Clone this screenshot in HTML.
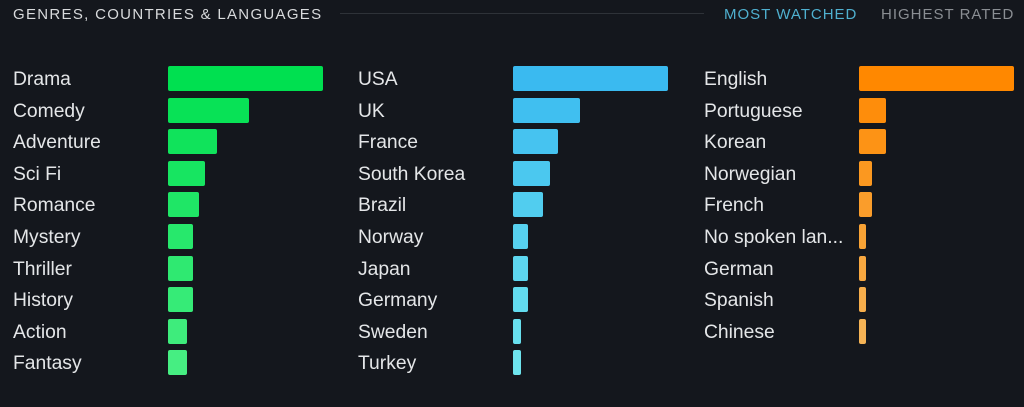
<!DOCTYPE html>
<html><head><meta charset="utf-8"><style>
body{margin:0;background:#14171d;width:1024px;height:407px;overflow:hidden;position:relative;font-family:"Liberation Sans",sans-serif}
.t{position:absolute;color:#e4e6e8;font-size:19.3px;line-height:25px;white-space:nowrap}
.b{position:absolute;height:25px;border-radius:2px}
.h{position:absolute;top:6px;font-size:15px;letter-spacing:1px;line-height:18px;white-space:nowrap}
</style></head><body>
<div class="h" style="left:13px;color:#d8dadc;letter-spacing:1.3px">GENRES, COUNTRIES &amp; LANGUAGES</div>
<div style="position:absolute;left:340px;top:13px;width:364px;height:1px;background:#2e3238"></div>
<div class="h" style="left:724px;color:#4fb0cf">MOST WATCHED</div>
<div class="h" style="left:881px;color:#8a8e93">HIGHEST RATED</div>
<div id="c"></div>
<script>
var cols=[
{x:13,bx:168,names:["Drama","Comedy","Adventure","Sci Fi","Romance","Mystery","Thriller","History","Action","Fantasy"],w:[155,81,49,37,31,25,25,25,19,19],c0:[0,224,80],c1:[70,238,130]},
{x:358,bx:513,names:["USA","UK","France","South Korea","Brazil","Norway","Japan","Germany","Sweden","Turkey"],w:[155,67,45,37,30,15,15,15,8,8],c0:[58,186,240],c1:[110,228,238]},
{x:704,bx:859,names:["English","Portuguese","Korean","Norwegian","French","No spoken lan...","German","Spanish","Chinese"],w:[155,27,27,13,13,7,7,7,7],c0:[255,136,0],c1:[244,184,96]}];
var h="";
cols.forEach(function(c){c.names.forEach(function(n,i){var y=Math.round(66+31.6*i);var f=i/9;
var col="rgb("+c.c0.map(function(v,k){return Math.round(v+(c.c1[k]-v)*f)}).join(",")+")";
h+='<div class="t" style="left:'+c.x+'px;top:'+(y+1)+'px">'+n+'</div>';
h+='<div class="b" style="left:'+c.bx+'px;top:'+y+'px;width:'+c.w[i]+'px;background:'+col+'"></div>';});});
document.getElementById("c").innerHTML=h;
</script>
</body></html>
